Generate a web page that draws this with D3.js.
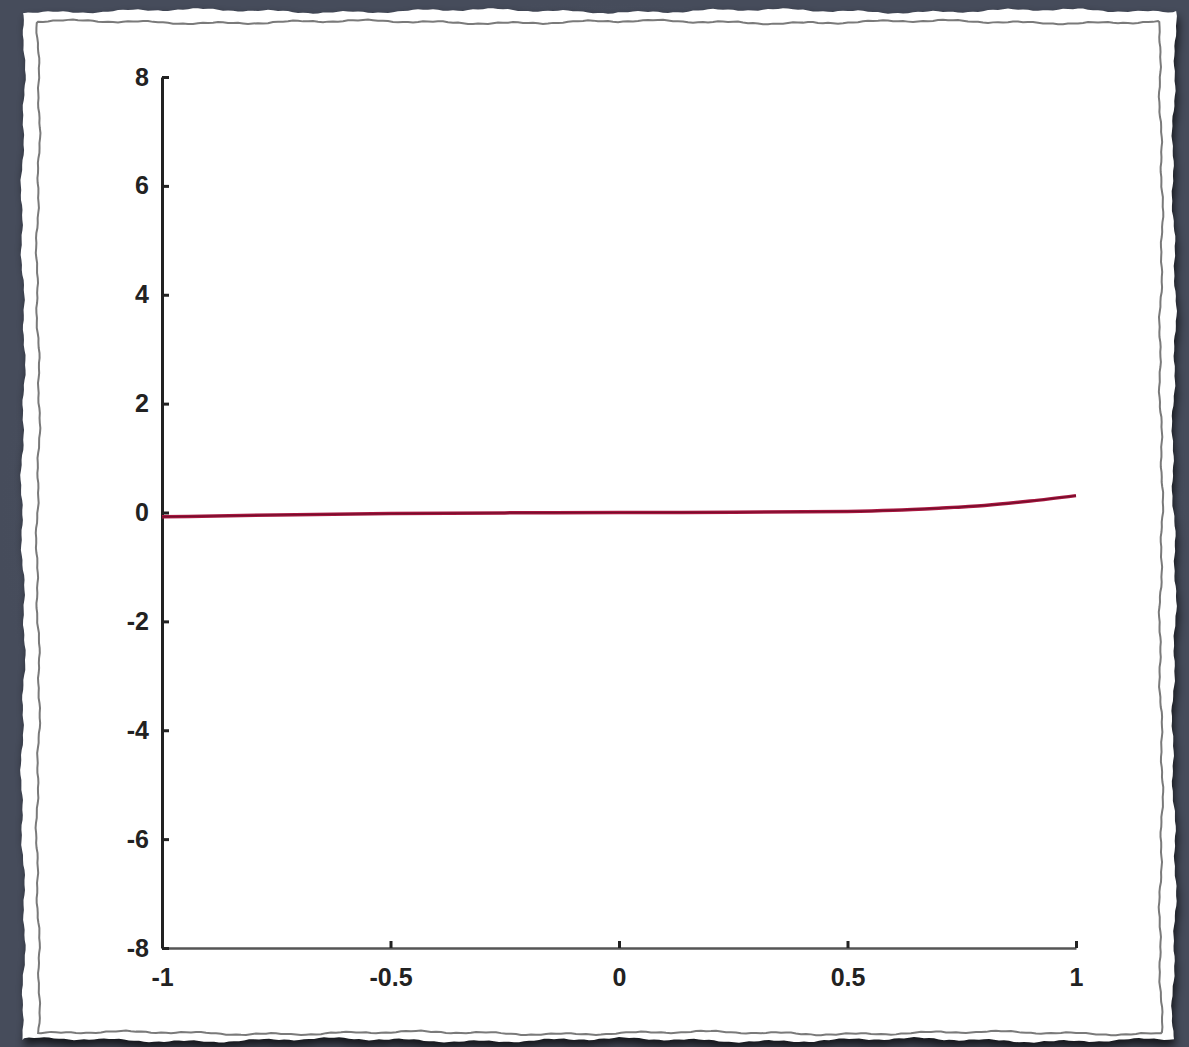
<!DOCTYPE html>
<html>
<head>
<meta charset="utf-8">
<script src="https://cdn.jsdelivr.net/npm/d3@7"></script>
<style>
  body { margin: 0; background: #4a5060; }
  svg { display: block; }
</style>
</head>
<body>
<svg></svg>
<script>
// curve samples
var xs = [-1, -0.75, -0.5, -0.25, 0, 0.25, 0.5, 0.6, 0.7, 0.8, 0.9, 1];
var ys = [-0.08, -0.045, -0.02, -0.007, 0, 0.005, 0.02, 0.04, 0.08, 0.13, 0.21, 0.31];
var xTicks = [-1, -0.5, 0, 0.5, 1];
var yTicks = [-8, -6, -4, -2, 0, 2, 4, 6, 8];

var svgWidth = 1189, svgHeight = 1047;

var svg = d3.select("svg")
    .attr("width", svgWidth)
    .attr("height", svgHeight);

// background with a soft vignette
var defs = svg.append("defs");
var grad = defs.append("radialGradient").attr("id", "bg");
grad.append("stop").attr("offset", "0%").attr("stop-color", "#555c6c");
grad.append("stop").attr("offset", "100%").attr("stop-color", "#464c5b");
svg.append("rect").attr("width", svgWidth).attr("height", svgHeight).attr("fill", "url(#bg)");

var blur = defs.append("filter").attr("id", "shadow").attr("x", "-5%").attr("y", "-5%")
    .attr("width", "110%").attr("height", "110%");
blur.append("feGaussianBlur").attr("stdDeviation", 4);

// rough (torn) rectangle outline, deterministic wobble
function rough(x0, y0, x1, y1, amp, seed) {
    var pts = [];
    function wob(i) {
        return amp * (Math.sin(i * 0.11 + seed) * 0.5 + Math.sin(i * 0.43 + seed * 2) * 0.35 + Math.sin(i * 1.7 + seed * 3) * 0.15);
    }
    var step = 5, i = 0, t;
    for (t = x0; t < x1; t += step) pts.push([t, y0 + wob(i++)]);
    for (t = y0; t < y1; t += step) pts.push([x1 + wob(i++), t]);
    for (t = x1; t > x0; t -= step) pts.push([t, y1 + wob(i++)]);
    for (t = y1; t > y0; t -= step) pts.push([x0 + wob(i++), t]);
    return d3.line()(pts) + "Z";
}

svg.append("path")
    .attr("d", rough(26, 16, 1176, 1046, 3, 1))
    .attr("fill", "#000")
    .attr("opacity", 0.7)
    .attr("filter", "url(#shadow)");

svg.append("path")
    .attr("d", rough(23, 11, 1174, 1040, 3, 1))
    .attr("fill", "#ffffff");

svg.append("path")
    .attr("d", rough(38, 22, 1161, 1033, 2.5, 4))
    .attr("fill", "none")
    .attr("stroke", "#7a7a7a")
    .attr("stroke-width", 2);

// scales
var x = d3.scaleLinear().domain([-1, 1]).range([162, 1076]);
var y = d3.scaleLinear().domain([-8, 8]).range([948, 77]);

var fmt = function(d) { return String(d); };

var xAxis = svg.append("g")
    .attr("transform", "translate(0," + y(-8) + ")")
    .call(d3.axisBottom(x).tickValues(xTicks).tickSizeInner(-7).tickSizeOuter(0).tickPadding(20)
        .tickFormat(fmt));

xAxis.select(".domain").attr("stroke", "#555").attr("stroke-width", 2.5);
xAxis.selectAll(".tick line").attr("stroke", "#222").attr("stroke-width", 3);

var yAxis = svg.append("g")
    .attr("transform", "translate(" + x(-1) + ",0)")
    .call(d3.axisLeft(y).tickValues(yTicks).tickSizeInner(-7).tickSizeOuter(0).tickPadding(13)
        .tickFormat(fmt));

yAxis.select(".domain").attr("stroke", "#222").attr("stroke-width", 3);
yAxis.selectAll(".tick line").attr("stroke", "#222").attr("stroke-width", 3);

svg.selectAll(".tick text")
    .attr("font-family", "Liberation Sans, Arial, sans-serif")
    .attr("font-weight", "bold")
    .attr("font-size", 25)
    .attr("fill", "#222");

// the curve
var data = xs.map(function(v, i) { return {x: v, y: ys[i]}; });

var line = d3.line()
    .x(function(d) { return x(d.x); })
    .y(function(d) { return y(d.y); })
    .curve(d3.curveMonotoneX);

svg.append("path")
    .datum(data)
    .attr("d", line)
    .attr("fill", "none")
    .attr("stroke", "#a8163f")
    .attr("stroke-width", 3.5);

svg.append("path")
    .datum(data)
    .attr("d", line)
    .attr("fill", "none")
    .attr("stroke", "#5a0c22")
    .attr("stroke-width", 1.2)
    .attr("opacity", 0.7);
</script>
</body>
</html>
